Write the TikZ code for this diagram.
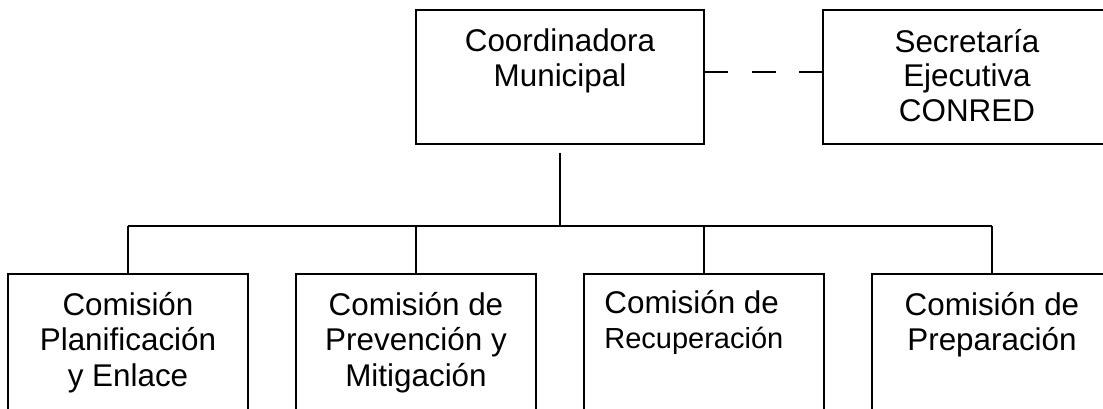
\documentclass[tikz,border=0pt]{standalone}
\usepackage{fontspec}
\setmainfont{Liberation Sans}
\usepackage{tikz}

\begin{document}
\begin{tikzpicture}[x=0.5pt,y=-0.5pt,
    caja/.style={draw,line width=1pt,inner sep=0pt,outer sep=0pt,minimum width=120pt,minimum height=70pt},
    cajaalta/.style={caja,minimum width=144pt,minimum height=67pt},
    texto/.style={anchor=base,align=center,inner sep=0pt,font=\fontsize{15.7}{17.25}\selectfont},
    linea/.style={line width=1pt}]
    \useasboundingbox (0,0) rectangle (1103,408);
    \clip (0,0) rectangle (1103,408);
    % nivel superior (base = ultima linea)
    \node[cajaalta] (coord) at (560,77) {};
    \node[cajaalta] (secre) at (967,77) {};
    \node[texto] (coordt) at (560,86) {Coordinadora\\Municipal};
    \node[texto] (secret) at (967,121) {Secretaría\\Ejecutiva\\CONRED};
    \draw[linea,dash pattern=on 12pt off 11.75pt] ([yshift=2.5pt]coord.east) -- ([yshift=2.5pt]secre.west);
    % comisiones
    \node[caja] (plan) at (128,344) {};
    \node[caja] (prev) at (416,344) {};
    \node[caja] (recu) at (704,344) {};
    \node[caja] (prep) at (992,344) {};
    \node[texto,font=\fontsize{15.7}{17.75}\selectfont] (plant) at (128,386) {Comisión\\Planificación\\y Enlace};
    \node[texto,font=\fontsize{15.7}{17.75}\selectfont] (prevt) at (416,386) {Comisión de\\Prevención y\\Mitigación};
    \node[texto,anchor=base west,align=left] (recut) at (604,348) {Comisión de\\{\fontsize{14.5}{17.5}\selectfont Recuperación}};
    \node[texto] (prept) at (992,350) {Comisión de\\Preparación};
    % conectores
    \coordinate (barra) at (560,226);
    \draw[linea] ([yshift=-4.5pt]coord.south) -- (barra);
    \draw[linea] (plan.north |- barra) -- (prep.north |- barra);
    \foreach \c in {plan,prev,recu,prep}
        \draw[linea] (\c.north) -- (\c.north |- barra);
\end{tikzpicture}
\end{document}
